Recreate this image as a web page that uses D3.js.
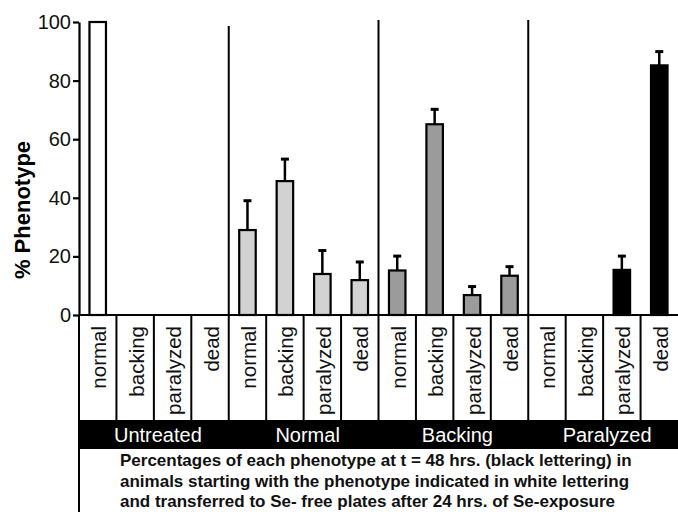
<!DOCTYPE html>
<html>
<head>
<meta charset="utf-8">
<script src="https://cdn.jsdelivr.net/npm/d3@7"></script>
<style>
  body { margin: 0; background: #fff; }
  text { font-family: "Liberation Sans", Arial, sans-serif; }
</style>
</head>
<body>
<div id="canvas"></div>
<script>
// starting phenotype groups and the phenotype scored at t = 48 hrs
const groups = ["Untreated", "Normal", "Backing", "Paralyzed"];
const phenotypes = ["normal", "backing", "paralyzed", "dead"];
const groupFill = ["#ffffff", "#d2d2d2", "#9b9b9b", "#000000"];

// % phenotype per group (same order as phenotypes), and upper error
const untreatedVals = [100, 0, 0, 0];
const untreatedErr = [0, 0, 0, 0];
const normalVals = [29, 45.7, 14, 11.9];
const normalErr = [10, 7.5, 8, 6.2];
const backingVals = [15.2, 65.1, 6.8, 13.4];
const backingErr = [4.9, 5.1, 2.9, 3.1];
const paralyzedVals = [0, 0, 15.4, 85.2];
const paralyzedErr = [0, 0, 4.7, 4.7];

const yTicks = [0, 20, 40, 60, 80, 100];
const captionLines = [
    "Percentages of each phenotype at t = 48 hrs. (black lettering) in",
    "animals starting with the phenotype indicated in white lettering",
    "and transferred to Se- free plates after 24 hrs. of Se-exposure"
];

const allVals = [untreatedVals, normalVals, backingVals, paralyzedVals];
const allErr = [untreatedErr, normalErr, backingErr, paralyzedErr];

// flatten into one row per bar
const bars = [];
groups.forEach(function(g, gi) {
    phenotypes.forEach(function(p, pi) {
        bars.push({key: g + "-" + p, group: gi, pheno: p, value: allVals[gi][pi], err: allErr[gi][pi]});
    });
});

const W = 678, H = 512;
const plotLeft = 79, plotRight = 678, base = 315, plotTop = 22;
const boxBottom = 420, bandBottom = 448;

const svg = d3.select("#canvas")
    .append("svg")
    .attr("width", W)
    .attr("height", H);

const x = d3.scaleBand()
    .domain(bars.map(d => d.key))
    .range([plotLeft, plotRight])
    .paddingInner(0)
    .paddingOuter(0);

const y = d3.scaleLinear()
    .domain([0, 100])
    .range([base, plotTop]);

const barW = 16.5;

// y axis
const yAxis = svg.append("g")
    .attr("transform", "translate(" + plotLeft + ",0)")
    .call(d3.axisLeft(y).tickValues(yTicks).tickSize(6).tickSizeOuter(0).tickPadding(2));
yAxis.select(".domain").attr("stroke-width", 2.2);
yAxis.selectAll(".tick line").attr("stroke-width", 2.2);
yAxis.selectAll(".tick text")
    .style("font-size", "20px")
    .style("font-family", "'Liberation Sans', Arial, sans-serif")
    .attr("fill", "#111");

svg.append("text")
    .attr("transform", "rotate(-90)")
    .attr("x", -210)
    .attr("y", 30)
    .attr("text-anchor", "middle")
    .style("font-size", "22px")
    .style("font-weight", "bold")
    .text("% Phenotype");

// baseline
svg.append("line")
    .attr("x1", plotLeft).attr("x2", plotRight)
    .attr("y1", base).attr("y2", base)
    .attr("stroke", "#000").attr("stroke-width", 2.2);

// group separators in the plot
[1, 2, 3].forEach(function(gi) {
    const gx = x(bars[gi * 4].key);
    svg.append("line")
        .attr("x1", gx).attr("x2", gx)
        .attr("y1", gi === 1 ? 26 : 20).attr("y2", base)
        .attr("stroke", "#000").attr("stroke-width", 2);
});

// bars
svg.selectAll("rect.bar")
    .data(bars)
    .enter()
    .append("rect")
    .attr("class", "bar")
    .attr("x", d => x(d.key) + x.bandwidth() / 2 - barW / 2)
    .attr("y", d => y(d.value))
    .attr("width", barW)
    .attr("height", d => base - y(d.value))
    .attr("fill", d => groupFill[d.group])
    .attr("stroke", "#000")
    .attr("stroke-width", d => d.value > 0 ? 2.2 : 0);

// error bars
const withErr = bars.filter(d => d.err > 0);
svg.selectAll("line.err")
    .data(withErr)
    .enter()
    .append("line")
    .attr("class", "err")
    .attr("x1", d => x(d.key) + x.bandwidth() / 2)
    .attr("x2", d => x(d.key) + x.bandwidth() / 2)
    .attr("y1", d => y(d.value))
    .attr("y2", d => y(d.value + d.err))
    .attr("stroke", "#000").attr("stroke-width", 2.5);
svg.selectAll("line.cap")
    .data(withErr)
    .enter()
    .append("line")
    .attr("class", "cap")
    .attr("x1", d => x(d.key) + x.bandwidth() / 2 - 4)
    .attr("x2", d => x(d.key) + x.bandwidth() / 2 + 4)
    .attr("y1", d => y(d.value + d.err))
    .attr("y2", d => y(d.value + d.err))
    .attr("stroke", "#000").attr("stroke-width", 3);

// phenotype label boxes
svg.selectAll("line.div")
    .data(bars)
    .enter()
    .append("line")
    .attr("class", "div")
    .attr("x1", d => x(d.key)).attr("x2", d => x(d.key))
    .attr("y1", base).attr("y2", boxBottom)
    .attr("stroke", "#000").attr("stroke-width", 2);

svg.selectAll("text.pheno")
    .data(bars)
    .enter()
    .append("text")
    .attr("class", "pheno")
    .attr("transform", d => "translate(" + (x(d.key) + x.bandwidth() / 2 + 8.5) + "," + 326 + ") rotate(-90)")
    .attr("text-anchor", "end")
    .style("font-size", "20.5px")
    .attr("fill", "#111")
    .text(d => d.pheno);

// black band with group names
svg.append("rect")
    .attr("x", plotLeft - 1).attr("y", boxBottom)
    .attr("width", plotRight - plotLeft + 2).attr("height", bandBottom - boxBottom)
    .attr("fill", "#000");

svg.selectAll("text.group")
    .data(groups)
    .enter()
    .append("text")
    .attr("class", "group")
    .attr("x", (d, i) => (x(bars[i * 4].key) + (i < 3 ? x(bars[i * 4 + 4].key) : plotRight)) / 2 + 4)
    .attr("y", 442)
    .attr("text-anchor", "middle")
    .attr("fill", "#fff")
    .style("font-size", "20px")
    .text(d => d);

// caption box
svg.append("rect")
    .attr("x", plotLeft).attr("y", bandBottom)
    .attr("width", plotRight - plotLeft + 20).attr("height", 80)
    .attr("fill", "none")
    .attr("stroke", "#000").attr("stroke-width", 2);

svg.selectAll("text.caption")
    .data(captionLines)
    .enter()
    .append("text")
    .attr("class", "caption")
    .attr("x", 120)
    .attr("y", (d, i) => 466 + i * 20.5)
    .style("font-size", "17px")
    .style("font-weight", "bold")
    .attr("fill", "#111")
    .text(d => d);
</script>
</body>
</html>
